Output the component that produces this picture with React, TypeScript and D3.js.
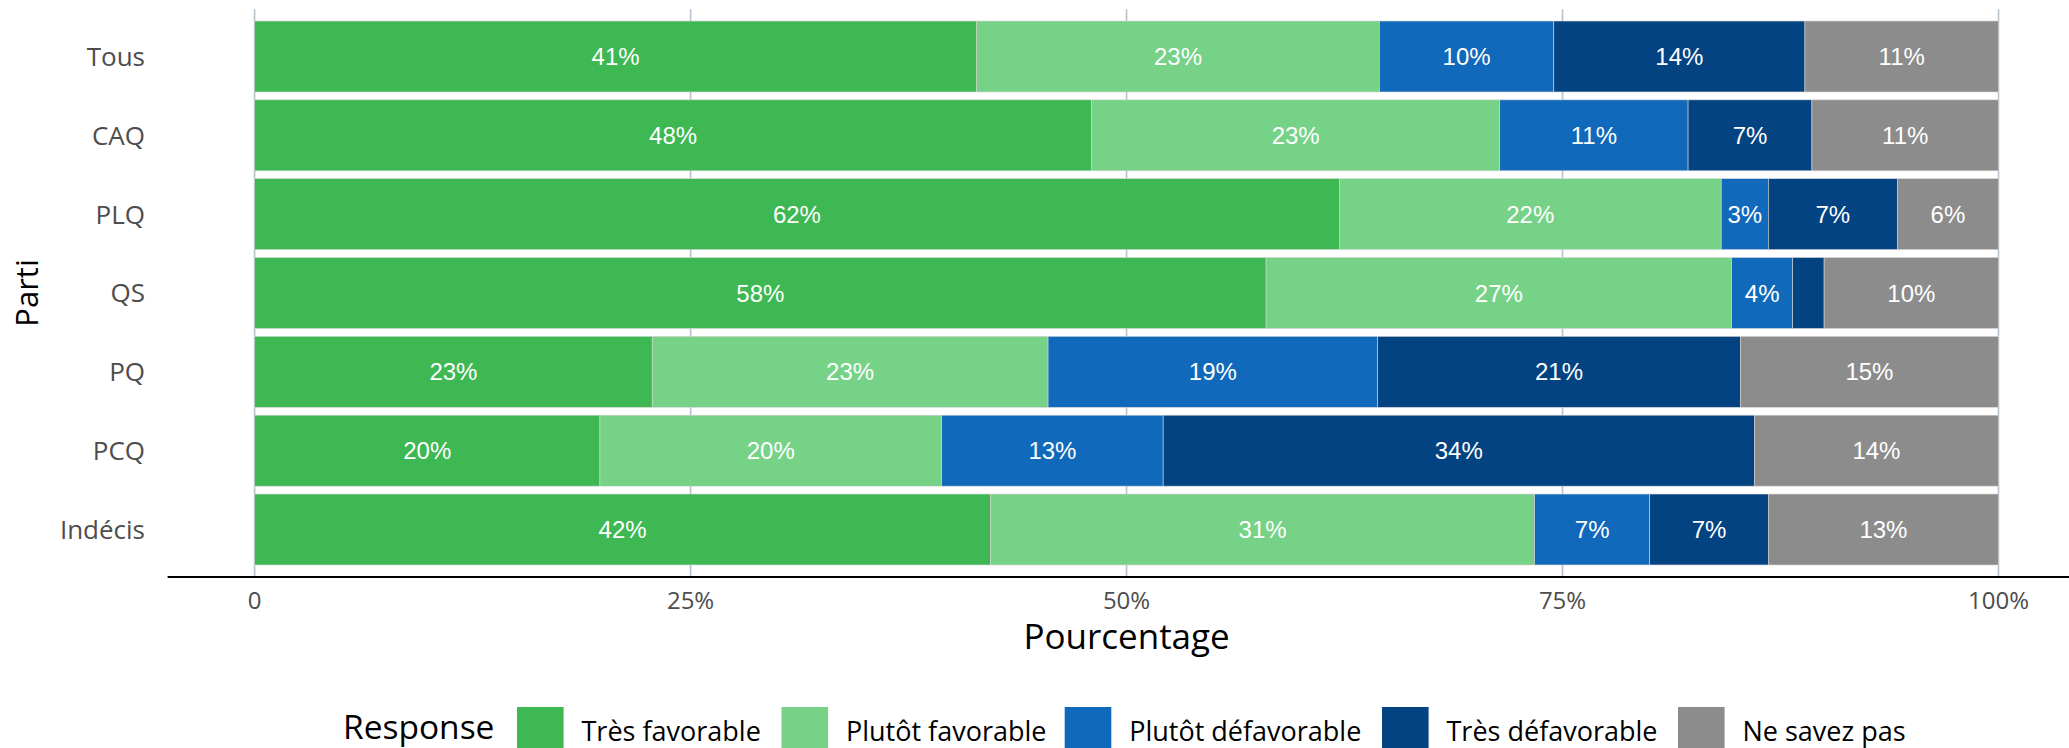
import React from "react";
import * as d3 from "d3";

const categories = ["Tous", "CAQ", "PLQ", "QS", "PQ", "PCQ", "Indécis"];
const responses = ["Très favorable", "Plutôt favorable", "Plutôt défavorable", "Très défavorable", "Ne savez pas"];
const tresFavorable = [41.4, 48.0, 62.2, 58.0, 22.8, 19.8, 42.2];
const plutotFavorable = [23.1, 23.4, 21.9, 26.7, 22.7, 19.6, 31.2];
const plutotDefavorable = [10.0, 10.8, 2.7, 3.5, 18.9, 12.7, 6.6];
const tresDefavorable = [14.4, 7.1, 7.4, 1.8, 20.8, 33.9, 6.8];
const neSavezPas = [11.1, 10.7, 5.8, 10.0, 14.8, 14.0, 13.2];
const xTicks = [0, 0.25, 0.5, 0.75, 1];
const xTickLabels = ["0", "25%", "50%", "75%", "100%"];
const colors = ["#3DB853", "#76D287", "#1169BB", "#044382", "#8C8C8C"];

const W = 2069;
const H = 748;
const uiFont = "'Open Sans', 'Noto Sans', sans-serif";
const barFont = "'Liberation Sans', Arial, sans-serif";

export default function App() {
  const series = [tresFavorable, plutotFavorable, plutotDefavorable, tresDefavorable, neSavezPas];
  const rows = categories.map((c, i) => {
    const o: any = { cat: c };
    responses.forEach((r, j) => (o[r] = series[j][i] / 100));
    return o;
  });
  const stacked = d3.stack().keys(responses)(rows as any);

  const x = d3.scaleLinear().domain([0, 1]).range([254.6, 1998.5]);
  const y = d3.scaleBand().domain(categories).range([9.2, 576.8]).paddingInner(0.1).paddingOuter(0.15);
  const color = d3.scaleOrdinal<string, string>().domain(responses).range(colors);

  const legendX = [517, 781.5, 1064.7, 1382, 1678];
  const keySize = 46.6;

  return (
    <svg width={W} height={H} style={{ position: "absolute", left: 0, top: 0, background: "#fff" }}>
      {xTicks.map((t) => (
        <line key={t} x1={x(t)} x2={x(t)} y1={9.2} y2={576.8} stroke="#B6C2CE" strokeWidth={1.6} />
      ))}
      {stacked.map((s) => (
        <g key={s.key} fill={color(s.key)}>
          {s.map((d: any, i) => (
            <rect
              key={i}
              x={x(d[0])}
              y={y(categories[i])}
              width={x(d[1]) - x(d[0])}
              height={y.bandwidth()}
              stroke="#d4d4d4"
              strokeWidth={0.6}
            />
          ))}
        </g>
      ))}
      {stacked.map((s, j) => (
        <g key={"l" + s.key}>
          {s.map((d: any, i) => {
            const v = series[j][i];
            if (v < 2.5) return null;
            return (
              <text
                key={i}
                x={(x(d[0]) + x(d[1])) / 2}
                y={(y(categories[i]) as number) + y.bandwidth() / 2}
                dy="0.36em"
                textAnchor="middle"
                fill="#ffffff"
                fontFamily={barFont}
                fontSize={24}
              >
                {Math.round(v) + "%"}
              </text>
            );
          })}
        </g>
      ))}
      {categories.map((c) => (
        <text
          key={c}
          x={145}
          y={(y(c) as number) + y.bandwidth() / 2}
          dy="0.36em"
          textAnchor="end"
          fill="#4D4D4D"
          fontFamily={uiFont}
          fontSize={26}
        >
          {c}
        </text>
      ))}
      <line x1={167.6} x2={W} y1={577} y2={577} stroke="#000" strokeWidth={2.2} />
      {xTicks.map((t, i) => (
        <text key={t} x={x(t)} y={609} textAnchor="middle" fill="#4D4D4D" fontFamily={uiFont} fontSize={24}>
          {xTickLabels[i]}
        </text>
      ))}
      <text x={(x(0) + x(1)) / 2} y={649} textAnchor="middle" fill="#000" fontFamily={uiFont} fontSize={35}>
        Pourcentage
      </text>
      <text
        transform={`translate(38, 293) rotate(-90)`}
        textAnchor="middle"
        fill="#000"
        fontFamily={uiFont}
        fontSize={31}
      >
        Parti
      </text>
      <text x={343} y={738.5} fill="#000" fontFamily={uiFont} fontSize={33.5}>
        Response
      </text>
      {responses.map((r, i) => (
        <g key={r}>
          <rect x={legendX[i]} y={707} width={keySize} height={keySize} fill={color(r)} />
          <text x={legendX[i] + 64.5} y={741} fill="#000" fontFamily={uiFont} fontSize={27}>
            {r}
          </text>
        </g>
      ))}
    </svg>
  );
}
